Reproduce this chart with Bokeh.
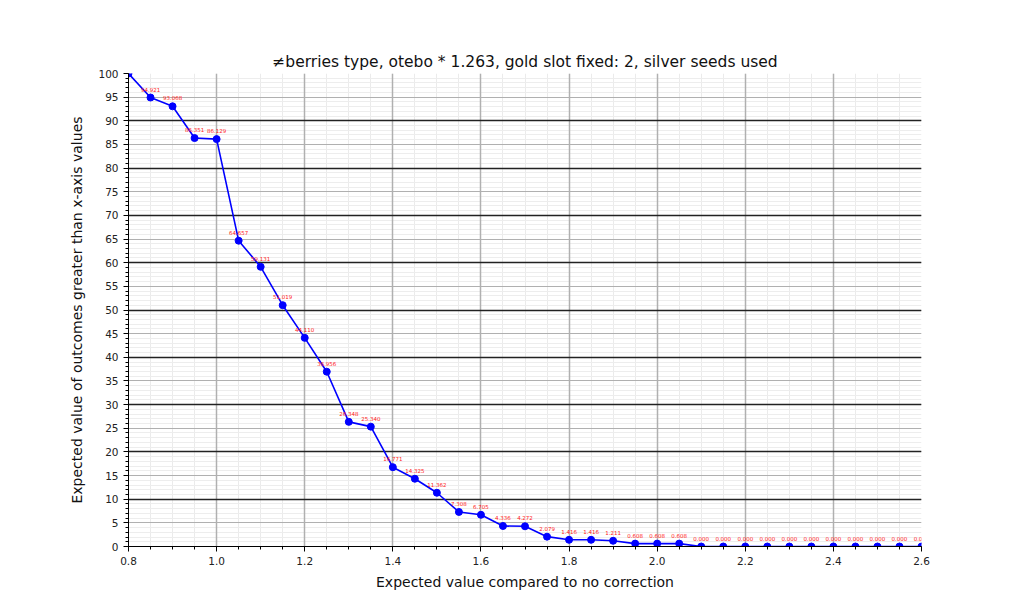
from bokeh.plotting import figure
from bokeh.models import (ColumnDataSource, Range1d, SingleIntervalTicker, Grid,
                          Label, NumeralTickFormatter)
from bokeh.embed import file_html
from bokeh.resources import INLINE

x_vals = [0.80, 0.85, 0.90, 0.95, 1.00, 1.05, 1.10, 1.15, 1.20, 1.25, 1.30, 1.35,
          1.40, 1.45, 1.50, 1.55, 1.60, 1.65, 1.70, 1.75, 1.80, 1.85, 1.90, 1.95,
          2.00, 2.05, 2.10, 2.15, 2.20, 2.25, 2.30, 2.35, 2.40, 2.45, 2.50, 2.55, 2.60]
y_vals = [100.000, 94.921, 93.068, 86.351, 86.129, 64.657, 59.131, 51.019, 44.110,
          36.956, 26.348, 25.340, 16.771, 14.325, 11.362, 7.308, 6.705, 4.336, 4.272,
          2.079, 1.416, 1.416, 1.211, 0.608, 0.608, 0.608, 0.000, 0.000, 0.000, 0.000,
          0.000, 0.000, 0.000, 0.000, 0.000, 0.000, 0.000]
labels = ["%.3f" % v for v in y_vals]

title = "\u2260berries type, otebo * 1.263, gold slot fixed: 2, silver seeds used"
x_label = "Expected value compared to no correction"
y_label = "Expected value of outcomes greater than x-axis values"

src = ColumnDataSource(dict(x=x_vals, y=y_vals, lab=labels))

p = figure(width=1008, height=598, output_backend="svg", toolbar_location=None,
           x_range=Range1d(0.8, 2.6), y_range=Range1d(0, 100),
           min_border_left=128, min_border_right=87, min_border_top=73,
           min_border_bottom=52)
p.outline_line_color = None
p.background_fill_color = "white"
p.border_fill_color = "white"

p.title.text = title
p.title.align = "center"
p.title.text_font = "DejaVu Sans"
p.title.text_font_size = "15.5px"
p.title.text_font_style = "normal"
p.title.text_color = "#111111"
p.title.standoff = 6

p.xgrid.visible = False
p.ygrid.visible = False

def add_grid(dim, interval, color, width):
    g = Grid(dimension=dim, ticker=SingleIntervalTicker(interval=interval),
             grid_line_color=color, grid_line_width=width)
    p.add_layout(g)

add_grid(0, 0.05, "#ebebeb", 1)
add_grid(1, 1, "#ededed", 1)
add_grid(1, 5, "#b0b0b0", 1.2)
add_grid(0, 0.2, "#b0b0b0", 1.5)
add_grid(1, 10, "#222222", 1.5)

xa = p.xaxis[0]
xa.ticker = SingleIntervalTicker(interval=0.2, num_minor_ticks=4)
xa.formatter = NumeralTickFormatter(format="0.0")
ya = p.yaxis[0]
ya.ticker = SingleIntervalTicker(interval=5, num_minor_ticks=5)

for ax in (xa, ya):
    ax.axis_line_color = "black"
    ax.axis_line_width = 1
    ax.major_tick_line_color = "black"
    ax.minor_tick_line_color = "black"
    ax.major_tick_out = 5
    ax.major_tick_in = 0
    ax.minor_tick_out = 3
    ax.minor_tick_in = 0
    ax.major_label_text_font = "DejaVu Sans"
    ax.major_label_text_font_size = "10.5px"
    ax.major_label_text_color = "#222222"
    ax.axis_label_text_font = "DejaVu Sans"
    ax.axis_label_text_font_size = "14px"
    ax.axis_label_text_font_style = "normal"
    ax.axis_label_text_color = "#111111"
xa.axis_label = x_label
ya.axis_label = y_label
xa.axis_label_standoff = 6
ya.axis_label_standoff = 10

p.line("x", "y", source=src, line_color="blue", line_width=1.6)
p.scatter("x", "y", source=src, size=7, fill_color="blue", line_color="blue")

for xv, yv, lab in zip(x_vals, y_vals, labels):
    p.add_layout(Label(x=xv, y=yv, text=lab, text_color="#ff2020",
                       text_font="DejaVu Sans", text_font_size="5.5px",
                       text_align="center", text_baseline="bottom", y_offset=6))

open("out.html", "w").write(file_html(p, INLINE))
